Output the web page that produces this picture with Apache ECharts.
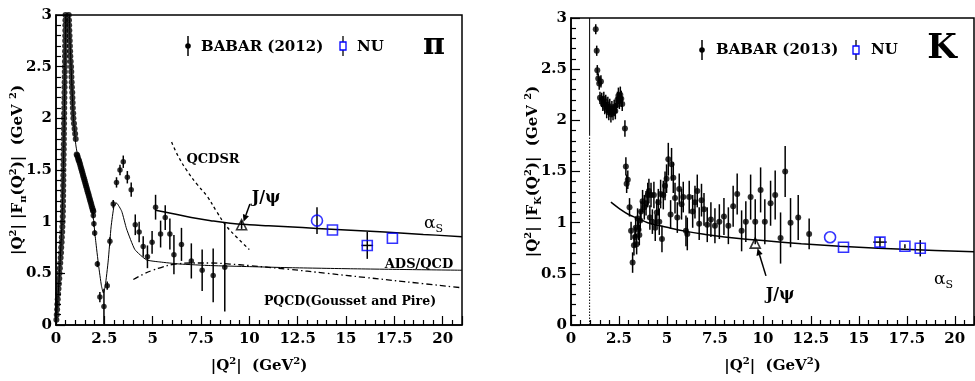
<!DOCTYPE html>
<html><head><meta charset="utf-8">
<script src="https://cdn.jsdelivr.net/npm/echarts@6/dist/echarts.min.js"></script>
<style>html,body{margin:0;padding:0;background:#fff}#c{width:975px;height:381px}</style>
</head><body><div id="c"></div>
<script>
const FONT = '"DejaVu Serif","Liberation Serif",serif';

// ===== Pion (left panel) =====
// dense low-Q2 BABAR points (errors too small to see)
const pionDenseQ2 = [0.02,0.04,0.06,0.07,0.09,0.11,0.13,0.15,0.17,0.18,0.20,0.22,0.24,0.26,0.27,0.29,0.30,0.32,0.33,0.34,0.35,0.355,0.36,0.365,0.37,0.372,0.375,0.378,0.38,0.383,0.386,0.39,0.395,0.40,0.403,0.406,0.409,0.412,0.415,0.418,0.422,0.426,0.43,0.434,0.438,0.442,0.446,0.45,0.455,0.46,0.463,0.466,0.469,0.472,0.475,0.478,0.481,0.484,0.487,0.49,
  0.66,0.67,0.68,0.69,0.70,0.71,0.72,0.73,0.74,0.76,0.78,0.79,0.80,0.81,0.82,0.84,0.85,0.86,0.87,0.89,0.90,0.93,0.96,0.99,1.02,
  1.07,1.10,1.13,1.16,1.19,1.22,1.25,1.28,1.31,1.34,1.37,1.40,1.43,1.46,1.49,1.52,1.55,1.58,1.61,1.64,1.67,1.70,1.73,1.76,1.79,1.82,1.85,1.88,1.91,1.93];
const pionDenseFF = [0.05,0.10,0.15,0.20,0.25,0.30,0.35,0.40,0.45,0.50,0.55,0.60,0.65,0.70,0.75,0.80,0.85,0.90,0.95,1.00,1.05,1.10,1.15,1.20,1.25,1.30,1.35,1.40,1.45,1.50,1.55,1.60,1.65,1.70,1.75,1.80,1.85,1.90,1.95,2.00,2.05,2.10,2.15,2.20,2.25,2.30,2.35,2.40,2.45,2.50,2.55,2.60,2.65,2.70,2.75,2.80,2.85,2.90,2.95,3.00,
  3.00,2.95,2.90,2.85,2.80,2.75,2.70,2.65,2.60,2.55,2.50,2.45,2.40,2.35,2.30,2.25,2.20,2.15,2.10,2.05,2.00,1.95,1.90,1.85,1.80,
  1.65,1.64,1.62,1.60,1.59,1.57,1.55,1.53,1.51,1.49,1.47,1.45,1.43,1.41,1.39,1.37,1.35,1.33,1.31,1.29,1.27,1.25,1.23,1.21,1.19,1.17,1.15,1.13,1.11,1.10];
// BABAR pion points with visible errors
const pionQ2  = [1.93,1.96,2.00,2.14,2.27,2.48,2.65,2.79,2.96,3.13,3.31,3.48,3.69,3.89,4.10,4.30,4.51,4.73,4.97,5.15,5.41,5.65,5.89,6.10,6.49,7.00,7.56,8.13,8.73];
const pionFF  = [1.06,0.98,0.89,0.59,0.27,0.18,0.38,0.81,1.17,1.38,1.50,1.58,1.43,1.31,0.97,0.90,0.76,0.66,0.80,1.14,0.88,1.04,0.88,0.68,0.78,0.62,0.53,0.48,0.56];
const pionErr = [0.03,0.03,0.03,0.03,0.05,0.17,0.04,0.04,0.04,0.05,0.05,0.06,0.06,0.07,0.10,0.10,0.10,0.11,0.11,0.12,0.13,0.12,0.15,0.19,0.16,0.17,0.20,0.26,0.43];
// NU predictions (pion)
const nuPiCircleQ2 = [13.5], nuPiCircleFF = [1.01], nuPiCircleErr = [0.13];
const nuPiSquareQ2 = [14.3, 16.1, 17.4], nuPiSquareFF = [0.92, 0.77, 0.84], nuPiSquareErr = [0, 0.13, 0], nuPiSquareXErr = [0, 0.3, 0];
const jpsiPiQ2 = [9.6], jpsiPiFF = [0.97];
// theory curves (pion)
const fitPiQ2 = [0.0,0.1,0.2,0.3,0.38,0.43,0.48,0.53,0.59,0.65,0.72,0.8,0.9,1.02,1.1,1.3,1.5,1.7,1.85,1.95,2.05,2.2,2.35,2.45,2.55,2.7,2.85,3.0,3.13,3.4,3.65,4.08,4.68,5.37,6.4,8,10,12,15,18,21];
const fitPiFF = [0.0,0.26,0.57,0.95,1.5,2.0,2.7,3.3,3.6,3.3,2.78,2.41,2.0,1.75,1.66,1.53,1.41,1.27,1.15,1.0,0.82,0.58,0.38,0.31,0.38,0.62,0.95,1.15,1.18,1.1,0.93,0.73,0.63,0.61,0.59,0.575,0.565,0.555,0.545,0.537,0.53];
const alphaPiQ2 = [5.15,6,7,8,9,10,11,12,13.5,15,17,19,21];
const alphaPiFF = [1.11,1.08,1.04,1.01,0.985,0.97,0.96,0.95,0.935,0.92,0.9,0.877,0.855];
const qcdsrQ2 = [5.98,6.3,6.75,7.3,7.8,8.3,8.8,9.4,10.0];
const qcdsrFF = [1.77,1.64,1.5,1.36,1.25,1.1,0.96,0.84,0.73];
const pqcdQ2 = [4.0,4.5,5.0,5.5,6.0,7,8,9,10,12,14,16,18,21];
const pqcdFF = [0.44,0.49,0.53,0.56,0.585,0.6,0.6,0.59,0.575,0.54,0.5,0.46,0.42,0.36];

// ===== Kaon (right panel) =====
const kaonQ2 = [1.29,1.34,1.37,1.42,1.47,1.51,1.56,1.60,1.66,1.71,1.76,1.81,1.86,1.92,1.97,2.02,2.08,2.13,2.19,2.25,2.31,2.37,2.42,2.47,2.52,2.57,2.62,2.67,2.81,2.86,2.90,2.96,3.05,3.13,3.21,3.28,3.33,3.37,3.42,3.47,3.52,3.56,3.61,3.65,3.73,3.82,3.91,4.00,4.06,4.11,4.17,4.24,4.32,4.39,4.47,4.55,4.60,4.67,4.74,4.81,4.90,4.98,5.07,5.19,5.24,5.33,5.42,5.54,5.64,5.76,5.85,5.99,6.06,6.16,6.34,6.46,6.58,6.68,6.80,6.93,7.10,7.29,7.50,7.73,7.97,8.20,8.45,8.66,8.89,9.11,9.36,9.60,9.88,10.10,10.40,10.64,10.92,11.16,11.44,11.84,12.41];
const kaonFF = [2.89,2.68,2.49,2.41,2.36,2.22,2.38,2.20,2.16,2.21,2.13,2.18,2.10,2.15,2.08,2.13,2.06,2.11,2.08,2.12,2.09,2.15,2.20,2.24,2.19,2.25,2.21,2.16,1.92,1.55,1.38,1.42,1.15,0.92,0.61,0.78,0.86,0.95,0.79,1.04,0.93,0.88,1.02,1.11,1.21,1.15,1.19,1.27,1.31,1.05,1.27,1.01,1.27,0.95,1.10,1.20,1.01,1.28,0.84,1.27,1.36,1.43,1.62,1.08,1.57,1.44,1.24,1.05,1.33,1.18,1.25,0.92,0.89,1.25,1.11,1.20,1.31,0.99,1.22,1.13,0.98,1.03,0.97,1.01,1.06,0.97,1.16,1.28,0.92,1.01,1.25,1.01,1.32,1.01,1.19,1.27,0.85,1.50,1.00,1.05,0.89];
const kaonErr = [0.05,0.05,0.05,0.05,0.06,0.06,0.06,0.07,0.07,0.07,0.07,0.07,0.08,0.08,0.08,0.08,0.08,0.08,0.08,0.08,0.08,0.08,0.08,0.08,0.08,0.08,0.08,0.07,0.08,0.09,0.09,0.09,0.09,0.09,0.10,0.10,0.10,0.10,0.10,0.10,0.10,0.10,0.10,0.10,0.11,0.12,0.12,0.12,0.12,0.12,0.12,0.12,0.13,0.13,0.13,0.13,0.13,0.14,0.13,0.14,0.14,0.14,0.16,0.14,0.16,0.15,0.15,0.15,0.15,0.15,0.15,0.15,0.16,0.16,0.16,0.16,0.16,0.16,0.16,0.16,0.17,0.17,0.17,0.17,0.18,0.18,0.20,0.20,0.20,0.20,0.22,0.22,0.22,0.22,0.22,0.24,0.25,0.25,0.24,0.22,0.15];
const nuKCircleQ2 = [13.5], nuKCircleFF = [0.857], nuKCircleErr = [0];
const nuKSquareQ2 = [14.2, 16.1, 17.4, 18.2], nuKSquareFF = [0.76, 0.81, 0.77, 0.75], nuKSquareErr = [0, 0.05, 0.02, 0.08], nuKSquareXErr = [0, 0.35, 0, 0];
const jpsiKQ2 = [9.6], jpsiKFF = [0.80];
const alphaKQ2 = [2.08,2.5,3,3.5,4,5,6,7,8,9,10,12,14,16,18,21];
const alphaKFF = [1.2,1.14,1.08,1.04,1.0,0.955,0.915,0.885,0.86,0.84,0.825,0.795,0.77,0.75,0.735,0.715];
const kThresholdQ2 = 0.97;
// arrows for J/psi labels: [tailQ2, tailFF, headQ2, headFF]
const arrowPi = [10.03, 1.17, 9.7, 1.0];
const arrowK = [10.16, 0.48, 9.72, 0.75];

// ===== helpers =====
const pairs = (a, b) => a.map((x, i) => [x, b[i]]);
function errSeries(gi, q, f, e, ex) {
  return {
    type: 'custom', xAxisIndex: gi, yAxisIndex: gi, z: 3, clip: true,
    data: q.map((x, i) => [x, f[i], e[i], ex ? ex[i] : 0]),
    renderItem: (params, api) => {
      const x = api.value(0), y = api.value(1), e = api.value(2), h = api.value(3);
      const ch = [];
      if (e > 0) {
        const a = api.coord([x, y - e]), b = api.coord([x, y + e]);
        ch.push({type: 'line', shape: {x1: a[0], y1: a[1], x2: b[0], y2: b[1]}, style: {stroke: '#000', lineWidth: 1.5}});
      }
      if (h > 0) {
        const a = api.coord([x - h, y]), b = api.coord([x + h, y]);
        ch.push({type: 'line', shape: {x1: a[0], y1: a[1], x2: b[0], y2: b[1]}, style: {stroke: '#000', lineWidth: 1.5}});
      }
      return {type: 'group', children: ch};
    }
  };
}
function lineSeries(gi, q, f, width, type, smooth) {
  return {type: 'line', xAxisIndex: gi, yAxisIndex: gi, data: pairs(q, f), symbol: 'none', smooth: smooth || false,
    clip: true, z: 2, lineStyle: {color: '#000', width: width, type: type || 'solid'}};
}
function dots(gi, q, f, size) {
  return {type: 'scatter', xAxisIndex: gi, yAxisIndex: gi, data: pairs(q, f), symbol: 'circle', symbolSize: size,
    itemStyle: {color: '#000'}, z: 4};
}
function openMarks(gi, q, f, sym, size, color) {
  return {type: 'scatter', xAxisIndex: gi, yAxisIndex: gi, data: pairs(q, f), symbol: sym, symbolSize: size,
    itemStyle: {color: 'rgba(0,0,0,0)', borderColor: color, borderWidth: 1.6}, z: 5};
}
function arrowSeries(gi, a) {
  return {type: 'custom', xAxisIndex: gi, yAxisIndex: gi, z: 6, clip: false, data: [a],
    renderItem: (params, api) => {
      const t = api.coord([api.value(0), api.value(1)]), h = api.coord([api.value(2), api.value(3)]);
      const dx = h[0] - t[0], dy = h[1] - t[1], L = Math.hypot(dx, dy), ux = dx / L, uy = dy / L, s = 7, w = 3.2;
      const bx = h[0] - ux * s, by = h[1] - uy * s;
      return {type: 'group', children: [
        {type: 'line', shape: {x1: t[0], y1: t[1], x2: bx, y2: by}, style: {stroke: '#000', lineWidth: 1.5}},
        {type: 'polygon', shape: {points: [[h[0], h[1]], [bx - uy * w, by + ux * w], [bx + uy * w, by - ux * w]]}, style: {fill: '#000'}}
      ]};
    }};
}
const richName = {
  sup: {fontSize: 10, fontFamily: FONT, fontWeight: 'bold', verticalAlign: 'top', lineHeight: 10, color: '#000'},
  sub: {fontSize: 10, fontFamily: FONT, fontWeight: 'bold', verticalAlign: 'bottom', lineHeight: 10, color: '#000'}
};
function xAxis(gi) {
  return {type: 'value', gridIndex: gi, min: 0, max: 21, interval: 2.5,
    axisLine: {show: true, onZero: false, lineStyle: {color: '#000', width: 1.5}},
    axisTick: {show: true, inside: true, length: 9, lineStyle: {color: '#000', width: 1.2}},
    minorTick: {show: true, splitNumber: 5, length: 5, lineStyle: {color: '#000', width: 1.2}},
    splitLine: {show: false}, minorSplitLine: {show: false},
    axisLabel: {showMaxLabel: false, color: '#000', fontFamily: FONT, fontWeight: 'bold', fontSize: 15, margin: 7},
    name: '|Q{sup|2}|  (GeV{sup|2})', nameLocation: 'middle', nameGap: 31, nameMoveOverlap: false,
    nameTextStyle: {color: '#000', fontFamily: FONT, fontWeight: 'bold', fontSize: 15, lineHeight: 20, rich: richName}};
}
function yAxis(gi, name) {
  return {type: 'value', gridIndex: gi, min: 0, max: 3, interval: 0.5,
    axisLine: {show: true, onZero: false, lineStyle: {color: '#000', width: 1.5}},
    axisTick: {show: true, inside: true, length: 9, lineStyle: {color: '#000', width: 1.2}},
    minorTick: {show: true, splitNumber: 5, length: 5, lineStyle: {color: '#000', width: 1.2}},
    splitLine: {show: false}, minorSplitLine: {show: false},
    axisLabel: {color: '#000', fontFamily: FONT, fontWeight: 'bold', fontSize: 15, margin: 4},
    name: name, nameLocation: 'middle', nameRotate: 90, nameGap: 28, nameMoveOverlap: false,
    nameTextStyle: {color: '#000', fontFamily: FONT, fontWeight: 'bold', fontSize: 15, lineHeight: 20, rich: richName}};
}
function txt(x, y, text, size, align, weight, extra) {
  return Object.assign({type: 'text', x: x, y: y, z: 10, style: {text: text, fill: '#000',
    fontFamily: FONT, fontSize: size, fontWeight: weight || 'bold', align: align || 'left', textAlign: align || 'left',
    verticalAlign: 'middle', textVerticalAlign: 'middle'}}, extra || {});
}
function alphaLabel(x, y) {
  return {type: 'text', x: x, y: y, z: 10, style: {text: '{a|α}{s|S}', verticalAlign: 'middle', textVerticalAlign: 'middle',
    rich: {a: {fontFamily: FONT, fontSize: 17, fill: '#000', color: '#000', lineHeight: 22, verticalAlign: 'middle'},
           s: {fontFamily: FONT, fontSize: 11, fill: '#000', color: '#000', lineHeight: 11, verticalAlign: 'bottom'}}}};
}
function legendDot(x, y) {
  return [{type: 'line', z: 10, shape: {x1: x, y1: y - 10, x2: x, y2: y + 10}, style: {stroke: '#000', lineWidth: 1.5}},
          {type: 'circle', z: 10, shape: {cx: x, cy: y, r: 2.8}, style: {fill: '#000'}}];
}
function legendSquare(x, y) {
  return [{type: 'line', z: 10, shape: {x1: x, y1: y - 10, x2: x, y2: y + 10}, style: {stroke: '#000', lineWidth: 1.3}},
          {type: 'rect', z: 11, shape: {x: x - 3, y: y - 4, width: 6, height: 8}, style: {fill: '#fff', stroke: '#00f', lineWidth: 1.3}}];
}

const chart = echarts.init(document.getElementById('c'), null, {renderer: 'canvas'});
chart.setOption({
  animation: false,
  backgroundColor: '#fff',
  grid: [
    {left: 56, top: 15, width: 406, height: 317, show: true, borderColor: '#000', borderWidth: 1.5, backgroundColor: 'transparent'},
    {left: 571, top: 18, width: 403, height: 315, show: true, borderColor: '#000', borderWidth: 1.5, backgroundColor: 'transparent'}
  ],
  xAxis: [xAxis(0), xAxis(1)],
  yAxis: [yAxis(0, '|Q{sup|2}| |F{sub|π}(Q{sup|2})|  (GeV {sup|2})'), yAxis(1, '|Q{sup|2}| |F{sub|K}(Q{sup|2})|  (GeV {sup|2})')],
  series: [
    // left
    lineSeries(0, fitPiQ2, fitPiFF, 1, 'solid', 0.15),
    lineSeries(0, alphaPiQ2, alphaPiFF, 1.5, 'solid', 0.4),
    lineSeries(0, qcdsrQ2, qcdsrFF, 1.3, [3, 3], 0.4),
    lineSeries(0, pqcdQ2, pqcdFF, 1.3, [6, 3, 1.5, 3], 0.4),
    dots(0, pionDenseQ2, pionDenseFF, 6),
    errSeries(0, pionQ2, pionFF, pionErr),
    dots(0, pionQ2, pionFF, 5.5),
    errSeries(0, nuPiCircleQ2, nuPiCircleFF, nuPiCircleErr),
    errSeries(0, nuPiSquareQ2, nuPiSquareFF, nuPiSquareErr, nuPiSquareXErr),
    openMarks(0, nuPiCircleQ2, nuPiCircleFF, 'circle', 11, '#0000ff'),
    openMarks(0, nuPiSquareQ2, nuPiSquareFF, 'rect', 10, '#0000ff'),
    errSeries(0, jpsiPiQ2, jpsiPiFF, [0.04]),
    openMarks(0, jpsiPiQ2, jpsiPiFF, 'triangle', 10, '#000'),
    arrowSeries(0, arrowPi),
    // right
    lineSeries(1, [kThresholdQ2, kThresholdQ2], [1.85, 3], 1, 'solid'),
    lineSeries(1, [kThresholdQ2, kThresholdQ2], [0, 1.85], 1, [1.5, 1.5]),
    lineSeries(1, alphaKQ2, alphaKFF, 1.5, 'solid', 0.4),
    errSeries(1, kaonQ2, kaonFF, kaonErr),
    dots(1, kaonQ2, kaonFF, 6),
    errSeries(1, nuKCircleQ2, nuKCircleFF, nuKCircleErr),
    errSeries(1, nuKSquareQ2, nuKSquareFF, nuKSquareErr, nuKSquareXErr),
    openMarks(1, nuKCircleQ2, nuKCircleFF, 'circle', 11, '#0000ff'),
    openMarks(1, nuKSquareQ2, nuKSquareFF, 'rect', 10, '#0000ff'),
    openMarks(1, jpsiKQ2, jpsiKFF, 'triangle', 10, '#000'),
    arrowSeries(1, arrowK)
  ],
  graphic: [].concat(
    legendDot(188, 46), [txt(201, 47, 'BABAR (2012)', 15)],
    legendSquare(343, 46), [txt(357, 47, 'NU', 15)],
    [txt(434, 46, 'π', 30, 'center')],
    [txt(213, 160, 'QCDSR', 13, 'center')],
    [txt(266, 198, 'J/ψ', 16, 'center')],
    [alphaLabel(424, 224)],
    [txt(419, 265, 'ADS/QCD', 13, 'center')],
    [txt(350, 302, 'PQCD(Gousset and Pire)', 12.5, 'center')],
    legendDot(702, 50), [txt(716, 50, 'BABAR (2013)', 15)],
    legendSquare(856, 50), [txt(871, 50, 'NU', 15)],
    [txt(942, 49, 'K', 34, 'center')],
    [txt(780, 295, 'J/ψ', 16, 'center')],
    [alphaLabel(934, 280)]
  )
});
</script></body></html>
